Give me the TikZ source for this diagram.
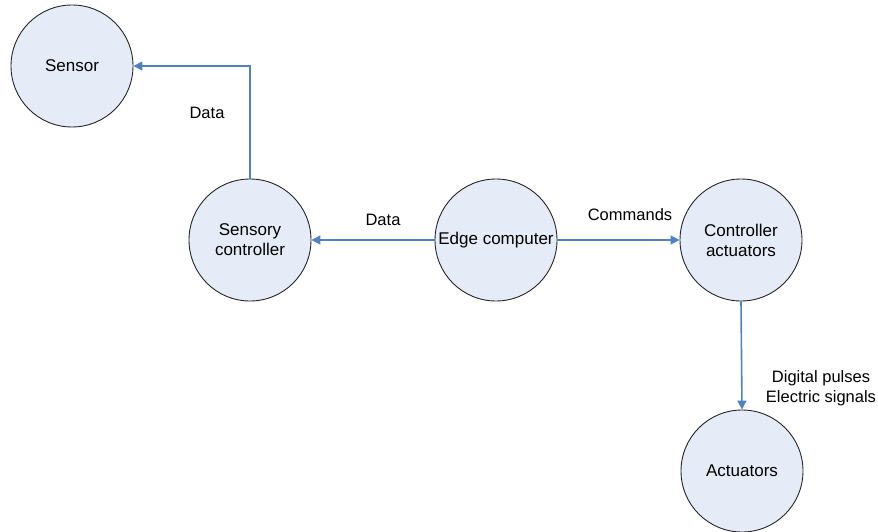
\documentclass[tikz,border=0pt]{standalone}
\usepackage{fontspec}
\setmainfont{Liberation Sans}
\usetikzlibrary{arrows.meta}
\definecolor{nodefill}{RGB}{230,236,247}
\definecolor{linkblue}{RGB}{79,129,189}
\tikzset{
  ball/.style={circle, draw=black!85, line width=0.9pt, fill=nodefill, minimum size=122pt, inner sep=0pt, align=center, font=\fontsize{17}{20}\selectfont},
  link/.style={draw=linkblue, line width=1.6pt, -{Triangle[length=9pt,width=9pt]}},
  lbl/.style={font=\fontsize{16.5}{19.5}\selectfont, inner sep=0pt, align=center}
}
\begin{document}
\begin{tikzpicture}[x=1pt,y=-1pt]
\useasboundingbox (0,0) rectangle (878,532);
\node[ball] (sensor) at (72,66) {Sensor};
\node[ball] (sc) at (250,240) {Sensory\\controller};
\node[ball] (edge) at (496,240) {Edge computer};
\node[ball] (ca) at (741,240) {Controller\\actuators};
\node[ball] (act) at (742,471) {Actuators};
\draw[link] (sc.north) |- (sensor.east);
\draw[link] (edge.west) -- (sc.east);
\draw[link] (edge.east) -- (ca.west);
\draw[link] (ca.south) -- (act.north);
\node[lbl] (l1) at (207,113) {Data};
\node[lbl] (l2) at (383,220) {Data};
\node[lbl] (l3) at (630,215) {Commands};
\node[lbl] (l4) at (821,388) {Digital pulses\\Electric signals};
\end{tikzpicture}
\end{document}
